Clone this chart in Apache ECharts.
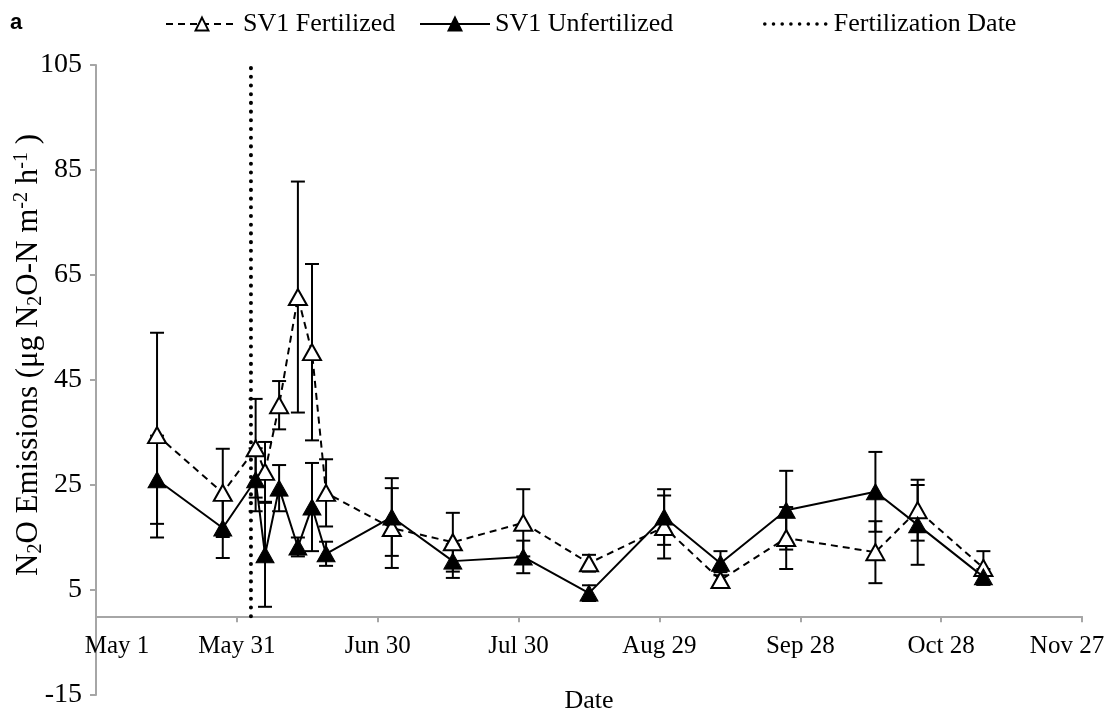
<!DOCTYPE html>
<html>
<head>
<meta charset="utf-8">
<title>SV1 N2O emissions</title>
<script src="https://cdn.jsdelivr.net/npm/echarts@6/dist/echarts.min.js"></script>
<style>
  html, body { margin: 0; padding: 0; background: #fff; }
  #chart { width: 1107px; height: 717px; }
</style>
</head>
<body>
<div id="chart"></div>
<script>
// sampling dates (year is arbitrary, only month / day are shown)
var startDate = '2013-05-01';
var sampleDates = ['2013-05-14', '2013-05-28', '2013-06-04', '2013-06-06', '2013-06-09', '2013-06-13',
  '2013-06-16', '2013-06-19', '2013-07-03', '2013-07-16', '2013-07-31', '2013-08-14',
  '2013-08-30', '2013-09-11', '2013-09-25', '2013-10-14', '2013-10-23', '2013-11-06'];
var fertValues   = [34.5, 23.5, 32, 27.5, 40.2, 60.8, 50.3, 23.5, 16.8, 14.1, 17.8, 10.1, 17, 6.9, 14.9, 12.2, 20.2, 9.2];
var fertSE       = [19.5, 8.4, 9.4, 5.7, 4.6, 22, 16.8, 6.4, 7.6, 5.6, 6.4, 1.6, 6, 1.5, 5.9, 5.9, 5.8, 3.2];
var unfertValues = [26, 16.8, 26, 11.7, 24.4, 13.2, 20.8, 11.9, 18.9, 10.5, 11.3, 4.4, 18.9, 10.1, 20.2, 23.7, 17.4, 7.5];
var unfertSE     = [8.4, 5.7, 6, 9.9, 4.4, 1.8, 8.4, 2.3, 7.4, 3.2, 3.1, 1.5, 5.3, 2.3, 7.5, 7.6, 7.6, 1.5];
var fertilizationDate = '2013-06-03';
var fertLineRange = [0, 105];
var monthNames = ['Jan', 'Feb', 'Mar', 'Apr', 'May', 'Jun', 'Jul', 'Aug', 'Sep', 'Oct', 'Nov', 'Dec'];

var serif = '"Liberation Serif", "DejaVu Serif", serif';
var DAY = 86400000;
var xMin = 0, xMax = 210;
var yMin = -15, yMax = 105;
var gridTop = 65, gridBottom = 22, chartH = 717;

function dayOf(s) {
  return Math.round((Date.parse(s) - Date.parse(startDate)) / DAY);
}
function dayLabel(d) {
  var t = new Date(Date.parse(startDate) + d * DAY);
  var txt = monthNames[t.getUTCMonth()] + ' ' + t.getUTCDate();
  // first / last label are pushed inside the plot like the original
  if (d === xMin) return '{first|' + txt + '}';
  if (d === xMax) return '{last|' + txt + '}';
  return txt;
}

var fertPts = sampleDates.map(function (s, i) { return [dayOf(s), fertValues[i]]; });
var unfertPts = sampleDates.map(function (s, i) { return [dayOf(s), unfertValues[i]]; });
var fertErr = sampleDates.map(function (s, i) { return [dayOf(s), fertValues[i] - fertSE[i], fertValues[i] + fertSE[i]]; });
var unfertErr = sampleDates.map(function (s, i) { return [dayOf(s), unfertValues[i] - unfertSE[i], unfertValues[i] + unfertSE[i]]; });
var fertLine = fertLineRange.map(function (v) { return [dayOf(fertilizationDate), v]; });

// the date axis crosses at y = 0 (labels go with it), so lift it by that much
var plotH = chartH - gridTop - gridBottom;
var xAxisOffset = -plotH * (0 - yMin) / (yMax - yMin);

// error bar: vertical line with caps
function errorBar(params, api) {
  var x = api.value(0);
  var lo = api.coord([x, api.value(1)]);
  var hi = api.coord([x, api.value(2)]);
  var w = 7;
  var st = { stroke: '#000', lineWidth: 2 };
  return {
    type: 'group',
    children: [
      { type: 'line', shape: { x1: lo[0], y1: lo[1], x2: hi[0], y2: hi[1] }, style: st },
      { type: 'line', shape: { x1: lo[0] - w, y1: lo[1], x2: lo[0] + w, y2: lo[1] }, style: st },
      { type: 'line', shape: { x1: hi[0] - w, y1: hi[1], x2: hi[0] + w, y2: hi[1] }, style: st }
    ]
  };
}

var legendText = { fontFamily: serif, fontSize: 26, color: '#000' };
var xLabelFont = { fontFamily: serif, fontSize: 25, color: '#000' };

var chart = echarts.init(document.getElementById('chart'));

var option = {
  backgroundColor: '#fff',
  animation: false,
  textStyle: { fontFamily: serif, color: '#000' },
  graphic: [{
    type: 'text', left: 10, top: 12,
    style: { text: 'a', font: 'bold 22px "Liberation Sans", Arial, sans-serif', fill: '#000' }
  }],
  legend: [
    { left: 160, top: 6, itemWidth: 72, itemHeight: 16, textStyle: legendText, data: ['SV1 Fertilized'] },
    { left: 414, top: 6, itemWidth: 70, itemHeight: 16, textStyle: legendText, data: ['SV1 Unfertilized'] },
    {
      left: 758, top: 6, itemWidth: 64, itemHeight: 16, textStyle: legendText, data: ['Fertilization Date'],
      lineStyle: { color: '#000', width: 3.5, type: [0.1, 8.6], cap: 'round' }
    }
  ],
  grid: { left: 96, right: 25, top: gridTop, bottom: gridBottom, containLabel: false, outerBoundsMode: 'none' },
  xAxis: {
    type: 'value',
    min: xMin, max: xMax, interval: 30,
    offset: xAxisOffset,
    name: 'Date', nameLocation: 'middle', nameGap: 72, nameMoveOverlap: false,
    nameTextStyle: { fontFamily: serif, fontSize: 26, color: '#000' },
    axisLine: { onZero: false, lineStyle: { color: '#a6a6a6', width: 2 } },
    axisTick: { show: true, inside: false, length: 6, lineStyle: { color: '#a6a6a6', width: 2 } },
    axisLabel: {
      margin: 18, fontFamily: serif, fontSize: 25, color: '#000', formatter: dayLabel,
      rich: {
        first: Object.assign({ padding: [0, 0, 0, 42] }, xLabelFont),
        last: Object.assign({ padding: [0, 30, 0, 0] }, xLabelFont)
      }
    },
    splitLine: { show: false }
  },
  yAxis: {
    type: 'value',
    min: yMin, max: yMax, interval: 20,
    name: '{n|N}{s|2}{n|O Emissions (μg N}{s|2}{n|O-N m}{p|-2}{n| h}{p|-1}{n| )}',
    nameLocation: 'middle', nameGap: 50, nameRotate: 90, nameMoveOverlap: false,
    nameTextStyle: {
      fontFamily: serif, fontSize: 31, color: '#000',
      padding: [0, 0, 0, 50],
      rich: {
        n: { fontFamily: serif, fontSize: 31, lineHeight: 34, color: '#000' },
        s: { fontFamily: serif, fontSize: 20, lineHeight: 18, verticalAlign: 'bottom', color: '#000' },
        p: { fontFamily: serif, fontSize: 20, lineHeight: 18, verticalAlign: 'top', color: '#000' }
      }
    },
    axisLine: { show: true, lineStyle: { color: '#a6a6a6', width: 2 } },
    axisTick: { show: true, inside: false, length: 6, lineStyle: { color: '#a6a6a6', width: 2 } },
    axisLabel: { margin: 14, fontFamily: serif, fontSize: 28, color: '#000' },
    splitLine: { show: false }
  },
  series: [
    {
      name: 'fertErr', type: 'custom', renderItem: errorBar,
      data: fertErr, z: 1, silent: true
    },
    {
      name: 'unfertErr', type: 'custom', renderItem: errorBar,
      data: unfertErr, z: 1, silent: true
    },
    {
      name: 'SV1 Fertilized', type: 'line', data: fertPts, z: 3,
      symbol: 'triangle', symbolSize: [18, 16],
      itemStyle: { color: '#fff', borderColor: '#000', borderWidth: 2 },
      lineStyle: { color: '#000', width: 2, type: [7, 5] }
    },
    {
      name: 'SV1 Unfertilized', type: 'line', data: unfertPts, z: 4,
      symbol: 'triangle', symbolSize: [18, 16],
      itemStyle: { color: '#000', borderColor: '#000', borderWidth: 1 },
      lineStyle: { color: '#000', width: 2 }
    },
    {
      name: 'Fertilization Date', type: 'line', data: fertLine, z: 2,
      showSymbol: false, symbol: 'circle', symbolSize: 0,
      itemStyle: { color: 'rgba(0,0,0,0)', borderWidth: 0 },
      lineStyle: { color: '#000', width: 4, type: [0.1, 8.6], cap: 'round' }
    }
  ]
};

chart.setOption(option);
</script>
</body>
</html>
